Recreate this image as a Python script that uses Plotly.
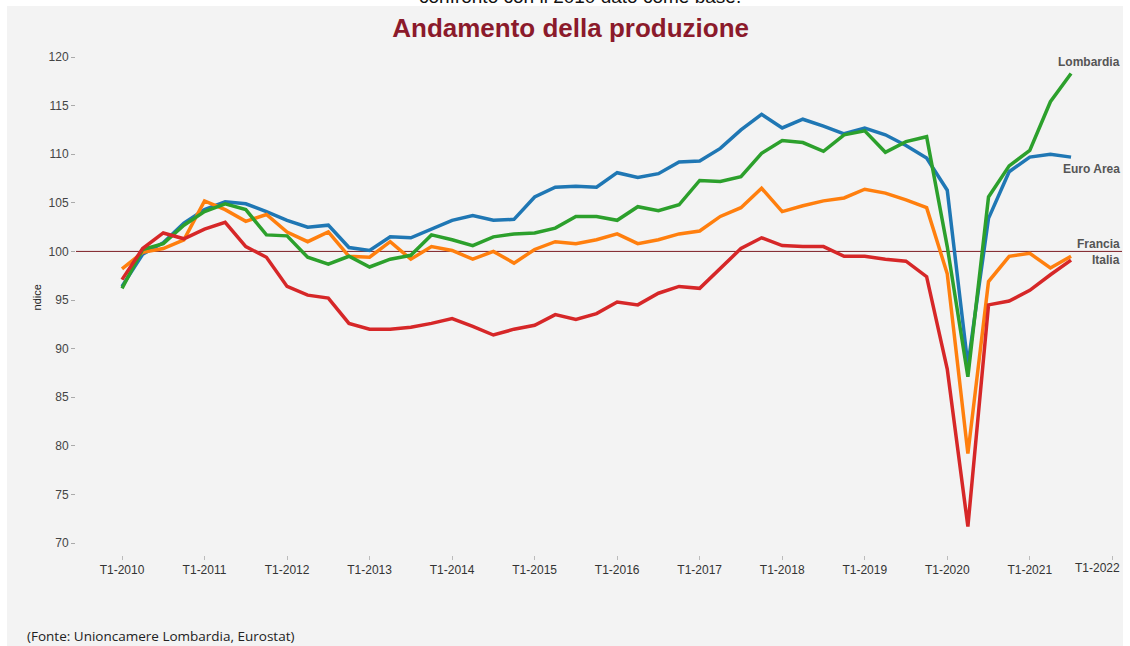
import plotly.graph_objects as go

# quarters T1-2010 .. T3-2021
years = list(range(2010, 2022))
quarters = [f"T{q}-{y}" for y in years for q in range(1, 5)][:47]

euro_area = [96.4, 99.7, 100.9, 102.9, 104.3, 105.1, 104.9, 104.1, 103.2, 102.5, 102.7, 100.4,
             100.1, 101.5, 101.4, 102.3, 103.2, 103.7, 103.2, 103.3, 105.6, 106.6, 106.7, 106.6,
             108.1, 107.6, 108.0, 109.2, 109.3, 110.6, 112.5, 114.1, 112.7, 113.6, 112.9, 112.1,
             112.7, 112.0, 110.9, 109.6, 106.3, 88.3, 103.4, 108.2, 109.7, 110.0, 109.7]
francia = [98.2, 99.9, 100.3, 101.2, 105.2, 104.3, 103.1, 103.8, 102.0, 101.0, 102.0, 99.5,
           99.4, 101.0, 99.2, 100.5, 100.1, 99.2, 100.0, 98.8, 100.2, 101.0, 100.8, 101.2,
           101.8, 100.8, 101.2, 101.8, 102.1, 103.6, 104.5, 106.5, 104.1, 104.7, 105.2, 105.5,
           106.4, 106.0, 105.3, 104.5, 97.7, 79.2, 96.9, 99.5, 99.8, 98.3, 99.5]
lombardia = [96.2, 100.2, 100.8, 102.7, 104.1, 104.9, 104.3, 101.7, 101.6, 99.4, 98.7, 99.5,
             98.4, 99.2, 99.6, 101.7, 101.2, 100.6, 101.5, 101.8, 101.9, 102.4, 103.6, 103.6,
             103.2, 104.6, 104.2, 104.8, 107.3, 107.2, 107.7, 110.1, 111.4, 111.2, 110.3, 112.0,
             112.4, 110.2, 111.3, 111.8, 100.5, 87.1, 105.6, 108.8, 110.4, 115.4, 118.3]
italia = [97.1, 100.3, 101.9, 101.3, 102.3, 103.0, 100.5, 99.4, 96.4, 95.5, 95.2, 92.6,
          92.0, 92.0, 92.2, 92.6, 93.1, 92.3, 91.4, 92.0, 92.4, 93.5, 93.0, 93.6,
          94.8, 94.5, 95.7, 96.4, 96.2, 98.2, 100.3, 101.4, 100.6, 100.5, 100.5, 99.5,
          99.5, 99.2, 99.0, 97.4, 87.9, 71.7, 94.5, 94.9, 96.0, 97.6, 99.1]

BASE = 100
series = [
    ("Euro Area", euro_area, "#1f77b4", 108.5),
    ("Francia", francia, "#ff7f0e", 100.8),
    ("Lombardia", lombardia, "#2ca02c", 119.5),
    ("Italia", italia, "#d62728", 99.1),
]

x = list(range(len(quarters)))
tick_vals = [4 * i for i in range(13)]
tick_text = [f"T1-{y}" for y in range(2010, 2023)]
last_label = tick_text[-1]
tick_text[-1] = ""  # drawn as annotation, squeezed left like the original

fig = go.Figure()
for name, vals, color, _ in series:
    fig.add_trace(go.Scatter(
        x=x, y=vals, name=name, mode="lines",
        line=dict(color=color, width=3.5),
        text=quarters, hovertemplate="%{text}: %{y}<extra>" + name + "</extra>",
    ))

# reference line at base year
fig.add_shape(type="line", xref="paper", x0=0, x1=1, yref="y", y0=BASE, y1=BASE,
              line=dict(color="#7d1d24", width=1), layer="below")

# white frame round the grey panel
for x0, x1, y0, y1 in [(-0.08, 1.01, 1.066, 1.08), (-0.08, -0.066, -0.2, 1.08),
                       (1.001, 1.01, -0.2, 1.08)]:
    fig.add_shape(type="rect", xref="paper", yref="paper", x0=x0, x1=x1, y0=y0, y1=y1,
                  fillcolor="white", line=dict(width=0), layer="below")

# series labels at right
for name, vals, color, ylab in series:
    fig.add_annotation(text=f"<b>{name}</b>", x=1, xref="paper", xanchor="right",
                       y=ylab, yref="y", showarrow=False,
                       font=dict(size=12, color="#555555", family="Arial"))

fig.add_annotation(text=last_label, x=tick_vals[-1], xref="x", xanchor="center", xshift=-15,
                   y=0, yref="paper", yanchor="top", yshift=-4, showarrow=False,
                   font=dict(size=12, color="#333333", family="Arial"))
fig.add_annotation(text="confronto con il 2010 dato come base.", x=0.4818, xref="paper",
                   y=1.0777, yref="paper", yanchor="bottom", yshift=-9, showarrow=False,
                   font=dict(size=19, color="#111111", family="Arial"))
fig.add_annotation(text="(Fonte: Unioncamere Lombardia, Eurostat)", x=-0.0488, xref="paper",
                   xanchor="left", y=-0.157, yref="paper", yanchor="middle", showarrow=False,
                   font=dict(size=13.5, color="#222222", family="Open Sans"))
fig.add_annotation(text="ndice", x=-0.045, xref="paper", y=0.5, yref="paper",
                   textangle=-90, showarrow=False,
                   font=dict(size=11, color="#222222", family="Arial"))

fig.update_layout(
    width=1130, height=646,
    margin=dict(l=76, r=8, t=40, b=91),
    paper_bgcolor="#f3f3f3", plot_bgcolor="#f3f3f3",
    showlegend=False,
    title=dict(text="<b>Andamento della produzione</b>", x=0.505, xanchor="center",
               y=0.9567, yanchor="middle",
               font=dict(size=26, color="#8b1a2b", family="Arial")),
    font=dict(family="Arial", color="#333333", size=12),
    xaxis=dict(range=[-2.23, 48.47], tickvals=tick_vals, ticktext=tick_text,
               showgrid=False, zeroline=False, showline=False,
               ticks="outside", ticklen=4, tickcolor="#bbbbbb",
               tickfont=dict(size=12, color="#333333")),
    yaxis=dict(range=[68.77, 121.75], dtick=5, tick0=70,
               showgrid=False, zeroline=False, showline=False,
               ticks="outside", ticklen=4, tickcolor="#aaaaaa",
               tickfont=dict(size=12, color="#444444")),
)

fig.write_html("out.html", config={"displayModeBar": False},
               post_script="document.body.style.margin='0';")
